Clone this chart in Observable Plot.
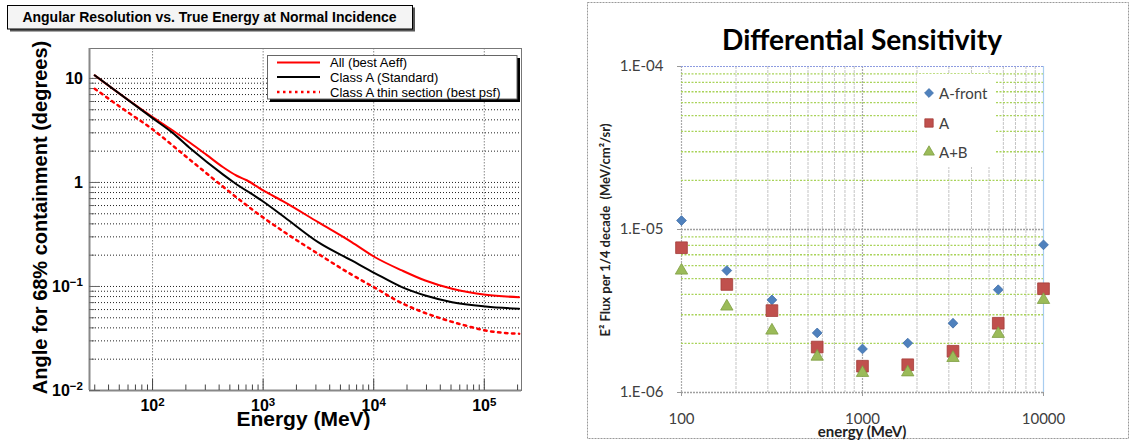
<!DOCTYPE html>
<html><head><meta charset="utf-8">
<script src="https://cdn.jsdelivr.net/npm/d3@7"></script>
<script src="https://cdn.jsdelivr.net/npm/@observablehq/plot@0.6"></script>
<style>
html,body{margin:0;padding:0;background:#fff;}
#wrap{position:relative;width:1130px;height:440px;overflow:hidden;background:#fff;}
#left{position:absolute;left:0;top:0;width:560px;height:440px;}
#right{position:absolute;left:560px;top:0;width:570px;height:440px;}
</style></head>
<body><div id="wrap"><div id="left"></div><div id="right"></div></div>
<script>
// ---------- Left chart: angular resolution (68% containment, degrees) vs energy (MeV)
const energyAll    = [30, 100, 148, 217, 308, 435, 577, 711, 1000, 1563, 3140, 6310, 10280, 17990, 29250, 51170, 102800, 206500];
const angleAll     = [10.7, 4.25, 3.23, 2.42, 1.84, 1.40, 1.16, 1.05, 0.838, 0.647, 0.415, 0.267, 0.191, 0.1426, 0.114, 0.095, 0.0832, 0.0789];
const energyClassA = [30, 100, 150, 220, 435, 545, 1000, 1563, 3140, 6310, 10280, 17990, 29250, 51170, 102800, 206500];
const angleClassA  = [10.7, 4.15, 3.03, 2.12, 1.19, 1.0, 0.656, 0.463, 0.267, 0.178, 0.134, 0.0985, 0.0818, 0.0706, 0.0642, 0.0610];
const energyThin   = [30, 53.7, 100, 195, 421, 817, 1640, 3140, 6310, 10280, 17990, 25470, 41500, 67600, 102800, 206500];
const angleThin    = [7.96, 5.12, 3.24, 1.82, 0.935, 0.538, 0.321, 0.206, 0.130, 0.097, 0.069, 0.0588, 0.0489, 0.0421, 0.0377, 0.0351];
const leftSeriesNames = ["All (best Aeff)", "Class A (Standard)", "Class A thin section (best psf)"];
const angTicks = [0.01, 0.1, 1, 10];
const angTickLabels = ["10^-2", "10^-1", "1", "10"];
const energyTicks = [100, 1000, 10000, 100000];
const energyTickLabels = ["10^2", "10^3", "10^4", "10^5"];

// ---------- Right chart: differential sensitivity
const sensEnergy = [100, 178, 316, 562, 1000, 1778, 3162, 5623, 10000];
const fluxAFront = [1.135e-5, 5.6e-6, 3.7e-6, 2.32e-6, 1.85e-6, 2.01e-6, 2.66e-6, 4.27e-6, 8.05e-6];
const fluxA      = [7.73e-6, 4.6e-6, 3.18e-6, 1.90e-6, 1.45e-6, 1.48e-6, 1.79e-6, 2.66e-6, 4.33e-6];
const fluxAB     = [5.6e-6, 3.37e-6, 2.4e-6, 1.66e-6, 1.32e-6, 1.33e-6, 1.63e-6, 2.29e-6, 3.7e-6];
const sensSeriesNames = ["A-front", "A", "A+B"];
const sensYTicks = [1e-6, 1e-5, 1e-4];
const sensYTickLabels = ["1.E-06", "1.E-05", "1.E-04"];
const sensXTicks = [100, 1000, 10000];
const sensXTickLabels = ["100", "1000", "10000"];

// helpers
function logSteps(lo, hi, skipDecades) {
  const out = [];
  for (let p = Math.floor(Math.log10(lo)); p <= Math.ceil(Math.log10(hi)); p++)
    for (let m = 1; m < 10; m++) {
      if (skipDecades && m === 1) continue;
      const v = +(m * Math.pow(10, p)).toPrecision(6);
      if (v >= lo * 0.9999 && v <= hi * 1.0001) out.push(v);
    }
  return out;
}
const zipXY = (xs, ys) => xs.map((x, i) => ({x, y: ys[i]}));
function supers(svg) {
  d3.select(svg).selectAll("text").each(function () {
    const m = /^10\^(.+)$/.exec(this.textContent);
    if (m) {
      const s = d3.select(this);
      s.text("");
      s.append("tspan").text("10");
      s.append("tspan").attr("dy", "-0.45em").attr("font-size", "0.72em").text(m[1].replace("-", "\u2212"));
    }
  });
}

// ================= LEFT =================
const xDomL = [26.9, 2.17e5];
const yDomL = [0.01, 19.4];
const angMap = new Map(angTicks.map((d, i) => [d, angTickLabels[i]]));
const enMap = new Map(energyTicks.map((d, i) => [d, energyTickLabels[i]]));
const leftColors = ["#ff0000", "#000000", "#ff0000"];

const left = Plot.plot({
  width: 560, height: 440,
  marginLeft: 89, marginRight: 39, marginTop: 48, marginBottom: 50,
  x: {type: "log", domain: xDomL},
  y: {type: "log", domain: yDomL},
  style: {fontFamily: "'Liberation Sans', Arial, sans-serif", background: "transparent", overflow: "visible", color: "#000"},
  marks: [
    Plot.ruleY(logSteps(yDomL[0], yDomL[1], false), {stroke: "#222", strokeDasharray: "1,2", strokeWidth: 1}),
    Plot.ruleX(energyTicks, {stroke: "#888", strokeDasharray: "1.5,1.5", strokeWidth: 1}),
    Plot.frame({stroke: "#777", strokeWidth: 1}),
    Plot.ruleX([xDomL[0]], {stroke: "#888", strokeWidth: 2}),
    Plot.ruleY([yDomL[0]], {stroke: "#888", strokeWidth: 2}),
    Plot.axisY(logSteps(yDomL[0], yDomL[1], true), {label: null, tickSize: -5.5, tickFormat: () => "", stroke: "#666"}),
    Plot.axisY(angTicks, {label: null, tickSize: -11, tickPadding: 17.5, tickFormat: d => angMap.get(d), stroke: "#666", fill: "#000", fontSize: 16, fontWeight: "bold"}),
    Plot.axisX(logSteps(xDomL[0], xDomL[1], true), {label: null, tickSize: -5.5, tickFormat: () => "", stroke: "#444"}),
    Plot.axisX(energyTicks, {label: null, tickSize: -11, tickPadding: 20, tickFormat: d => enMap.get(d), stroke: "#444", fill: "#000", fontSize: 16, fontWeight: "bold"}),
    Plot.line(zipXY(energyAll, angleAll), {x: "x", y: "y", stroke: leftColors[0], strokeWidth: 2, curve: "monotone-x"}),
    Plot.line(zipXY(energyClassA, angleClassA), {x: "x", y: "y", stroke: leftColors[1], strokeWidth: 2, curve: "monotone-x"}),
    Plot.line(zipXY(energyThin, angleThin), {x: "x", y: "y", stroke: leftColors[2], strokeWidth: 2.5, strokeDasharray: "2.5,4.5", curve: "monotone-x"})
  ]
});
supers(left);
document.getElementById("left").appendChild(left);
{
  const s = d3.select(left);
  // title box
  s.append("rect").attr("x", 10).attr("y", 7.5).attr("width", 405).attr("height", 24).attr("fill", "#555");
  s.append("rect").attr("x", 7.5).attr("y", 5.5).attr("width", 405).attr("height", 23.5).attr("fill", "#f4f4f4").attr("stroke", "#000");
  s.append("text").attr("x", 209.5).attr("y", 22).attr("text-anchor", "middle")
    .attr("font-size", 14).attr("font-weight", "bold").attr("fill", "#000")
    .text("Angular Resolution vs. True Energy at Normal Incidence");
  // axis labels
  s.append("text").attr("transform", "translate(46.5,217.5) rotate(-90)").attr("text-anchor", "middle")
    .attr("font-size", 20).attr("font-weight", "bold").attr("fill", "#000").text("Angle for 68% containment (degrees)");
  s.append("text").attr("x", 303.5).attr("y", 426).attr("text-anchor", "middle")
    .attr("font-size", 21).attr("font-weight", "bold").attr("fill", "#000").text("Energy (MeV)");
  // legend
  s.append("rect").attr("x", 270).attr("y", 58).attr("width", 250).attr("height", 44).attr("fill", "#000");
  s.append("rect").attr("x", 267.5).attr("y", 55.5).attr("width", 249.5).attr("height", 43.5).attr("fill", "#fff").attr("stroke", "#666");
  const rowsY = [67, 81.5, 96.5];
  leftSeriesNames.forEach((name, i) => {
    const ly = rowsY[i] - 4.5;
    s.append("line").attr("x1", 277).attr("x2", 320).attr("y1", ly).attr("y2", ly)
      .attr("stroke", leftColors[i]).attr("stroke-width", i === 2 ? 2.5 : 2)
      .attr("stroke-dasharray", i === 2 ? "2.5,3.5" : null);
    s.append("text").attr("x", 330).attr("y", rowsY[i]).attr("text-anchor", "start")
      .attr("font-size", 13).attr("fill", "#000").text(name);
  });
}

// ================= RIGHT =================
const xDomR = [100, 10000];
const yDomR = [1e-6, 1e-4];
const syMap = new Map(sensYTicks.map((d, i) => [d, sensYTickLabels[i]]));
const sxMap = new Map(sensXTicks.map((d, i) => [d, sensXTickLabels[i]]));
const sensColors = ["#4f81bd", "#c0504d", "#9bbb59"];
const sensStroke = ["#3f6fa8", "#a33c39", "#7f9e43"];
const sensSymbols = ["diamond2", "square", "triangle"];
const sensR = [4.4, 6.6, 4.6];

const right = Plot.plot({
  width: 570, height: 440,
  marginLeft: 121, marginRight: 87, marginTop: 66, marginBottom: 48,
  x: {type: "log", domain: xDomR},
  y: {type: "log", domain: yDomR},
  style: {fontFamily: "Lato, 'Open Sans', sans-serif", background: "transparent", overflow: "visible", color: "#404040"},
  marks: [
    Plot.ruleX(logSteps(xDomR[0], xDomR[1], true), {stroke: "#c4c4c4", strokeDasharray: "3,1", strokeWidth: 1}),
    Plot.ruleX([100, 1000], {stroke: "#aaa", strokeDasharray: "2,1", strokeWidth: 1.2}),
    Plot.ruleY(logSteps(yDomR[0], yDomR[1], true), {stroke: "#a9d35a", strokeDasharray: "2,1.5", strokeWidth: 1.3}),
    Plot.ruleY([1e-6, 1e-5], {stroke: "#a0a0a0", strokeDasharray: "2,1", strokeWidth: 1.3}),
    Plot.ruleY([1e-4], {stroke: "#8d9be0", strokeDasharray: "2,1", strokeWidth: 1.2}),
    Plot.ruleX([10000], {stroke: "#a8cdf0", strokeWidth: 1.2}),
    Plot.axisY(sensYTicks, {label: null, tickSize: 4, tickPadding: 14, tickFormat: d => syMap.get(d), stroke: "#999", fill: "#404040", fontSize: 15}),
    Plot.axisX(sensXTicks, {label: null, tickSize: 4, tickPadding: 17, tickFormat: d => sxMap.get(d), stroke: "#999", fill: "#404040", fontSize: 15}),
    Plot.dot(zipXY(sensEnergy, fluxAFront), {x: "x", y: "y", symbol: sensSymbols[0], r: sensR[0], fill: sensColors[0], stroke: sensStroke[0], strokeWidth: 0.8}),
    Plot.dot(zipXY(sensEnergy, fluxA), {x: "x", y: "y", symbol: sensSymbols[1], r: sensR[1], fill: sensColors[1], stroke: sensStroke[1], strokeWidth: 0.8}),
    Plot.dot(zipXY(sensEnergy, fluxAB), {x: "x", y: "y", symbol: sensSymbols[2], r: sensR[2], fill: sensColors[2], stroke: sensStroke[2], strokeWidth: 0.8})
  ]
});
document.getElementById("right").appendChild(right);
{
  const s = d3.select(right);
  s.insert("rect", ":first-child").attr("x", 27.5).attr("y", 2.5).attr("width", 541).attr("height", 436)
    .attr("fill", "none").attr("stroke", "#999").attr("stroke-dasharray", "2,1");
  s.append("text").attr("x", 302).attr("y", 50).attr("text-anchor", "middle")
    .attr("font-size", 28).attr("font-weight", "bold").attr("fill", "#000")
    .attr("textLength", 280).attr("lengthAdjust", "spacingAndGlyphs")
    .text("Differential Sensitivity");
  s.append("text").attr("transform", "translate(50,230) rotate(-90)").attr("text-anchor", "middle")
    .attr("font-size", 13).attr("font-weight", "bold").attr("fill", "#222")
    .text("E\u00b2 Flux per 1/4 decade  (MeV/cm\u00b2/sr)");
  s.append("text").attr("x", 302).attr("y", 437).attr("text-anchor", "middle")
    .attr("font-size", 15).attr("font-weight", "bold").attr("fill", "#222").text("energy (MeV)");
  // legend
  s.append("rect").attr("x", 357).attr("y", 74).attr("width", 79).attr("height", 93).attr("fill", "#fff");
  const symTypes = [d3.symbolDiamond2, d3.symbolSquare, d3.symbolTriangle];
  const symSizes = [50, 70, 50];
  const ly = [93, 123, 152];
  sensSeriesNames.forEach((name, i) => {
    s.append("path").attr("transform", `translate(369,${ly[i]})`)
      .attr("d", d3.symbol(symTypes[i], symSizes[i])())
      .attr("fill", sensColors[i]).attr("stroke", sensStroke[i]).attr("stroke-width", 0.8);
    s.append("text").attr("x", 379).attr("y", ly[i] + 5.5).attr("text-anchor", "start")
      .attr("font-size", 15).attr("fill", "#404040").text(name);
  });
}
</script>
</body></html>
